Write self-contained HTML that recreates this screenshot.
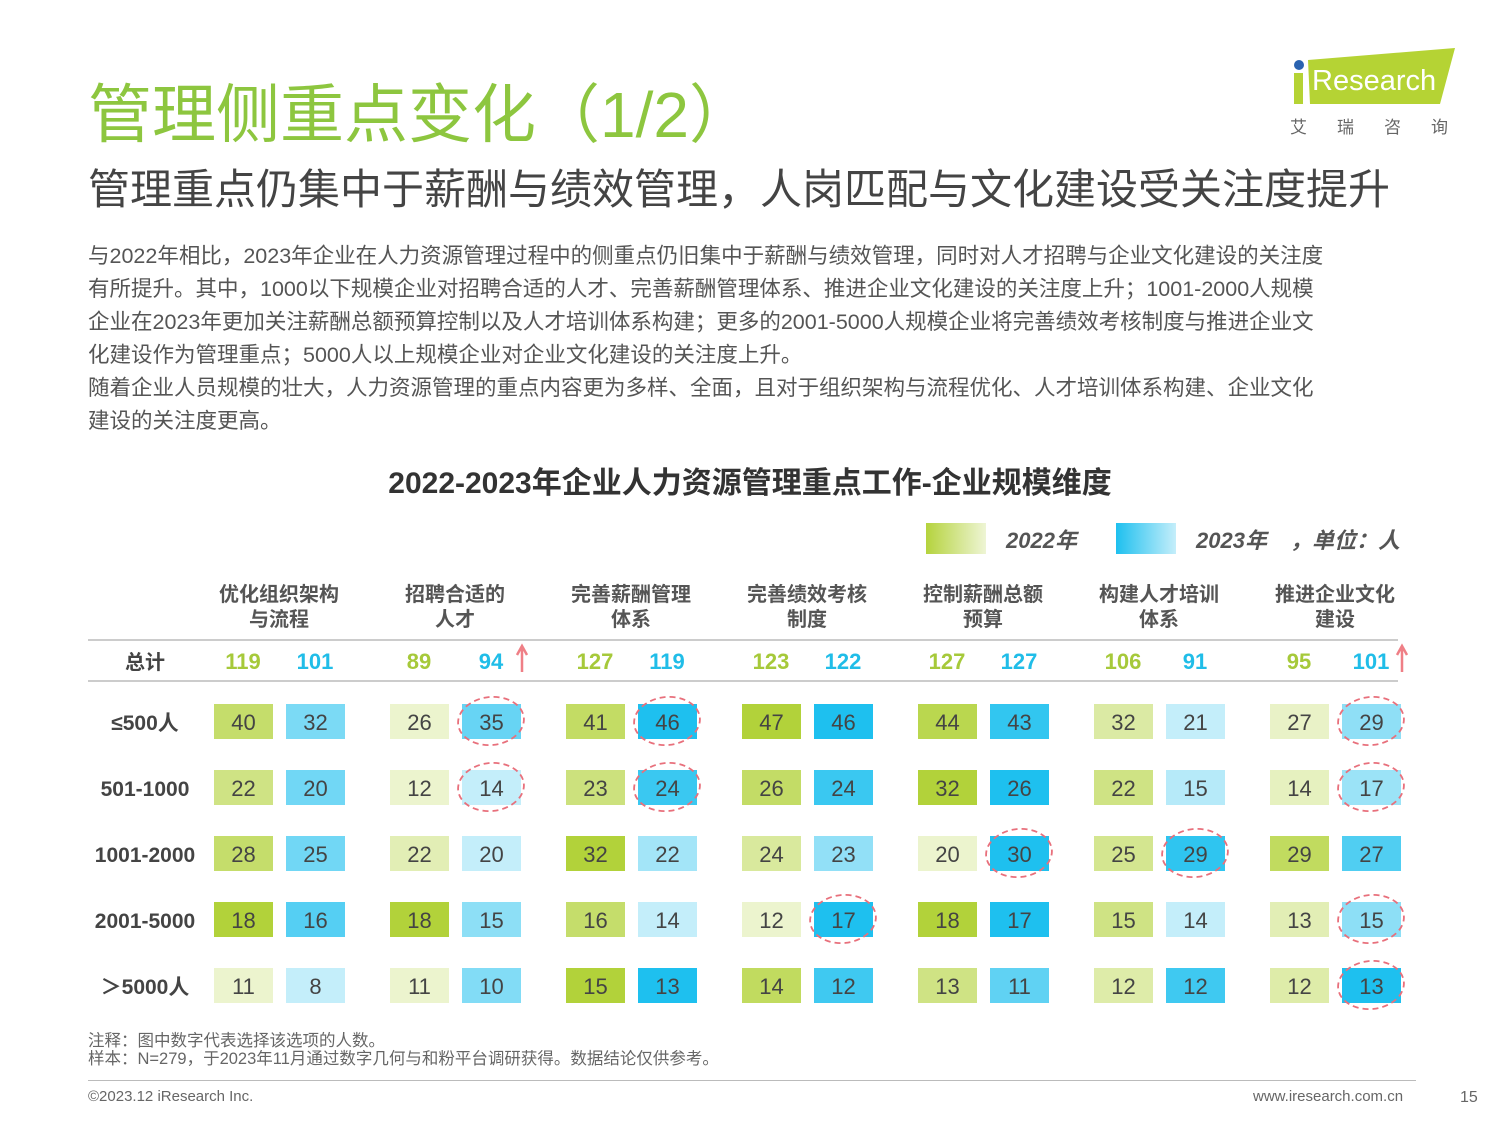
<!DOCTYPE html>
<html><head><meta charset="utf-8">
<style>
body{margin:0;width:1500px;height:1125px;background:#fff;position:relative;overflow:hidden;font-family:"Liberation Sans","Noto Sans CJK SC",sans-serif;}
.abs{position:absolute;}
#t1{left:88px;top:64px;font-size:64px;color:#8dc63f;white-space:nowrap;}
#t2{left:88px;top:156px;font-size:42px;color:#444;white-space:nowrap;}
#body{left:88px;top:240px;font-size:21.5px;line-height:33px;color:#555;white-space:nowrap;}
#ct{left:0;width:1500px;top:458px;text-align:center;font-size:30px;font-weight:bold;color:#333;}
.foot{font-size:15px;color:#666;}
</style></head><body>
<div class="abs" id="t1">管理侧重点变化（1/2）</div>
<div class="abs" id="t2">管理重点仍集中于薪酬与绩效管理，人岗匹配与文化建设受关注度提升</div>
<div class="abs" id="body">与2022年相比，2023年企业在人力资源管理过程中的侧重点仍旧集中于薪酬与绩效管理，同时对人才招聘与企业文化建设的关注度<br>有所提升。其中，1000以下规模企业对招聘合适的人才、完善薪酬管理体系、推进企业文化建设的关注度上升；1001-2000人规模<br>企业在2023年更加关注薪酬总额预算控制以及人才培训体系构建；更多的2001-5000人规模企业将完善绩效考核制度与推进企业文<br>化建设作为管理重点；5000人以上规模企业对企业文化建设的关注度上升。<br>随着企业人员规模的壮大，人力资源管理的重点内容更为多样、全面，且对于组织架构与流程优化、人才培训体系构建、企业文化<br>建设的关注度更高。</div>
<div class="abs" id="ct">2022-2023年企业人力资源管理重点工作-企业规模维度</div>

<div class="abs" style="left:1290px;top:48px;">
<svg width="170" height="60"><polygon points="18,12 165,0 150,56 20,56" fill="#b5d334"/><circle cx="9" cy="17" r="5" fill="#2a63b0"/><rect x="4" y="25" width="9" height="31" fill="#b5d334"/><text x="22" y="42" font-size="29" fill="#fff" font-family="Liberation Sans">Research</text></svg>
<div style="font-size:17px;color:#666;letter-spacing:30px;margin-top:0px;white-space:nowrap;">艾瑞咨询</div>
</div>

<svg class="abs" style="left:0;top:0" width="1500" height="1125" id="chart">
<defs>
<linearGradient id="gg" x1="0" x2="1"><stop offset="0" stop-color="#b5d33d"/><stop offset="1" stop-color="#eef5d5"/></linearGradient>
<linearGradient id="gb" x1="0" x2="1"><stop offset="0" stop-color="#1ec0ef"/><stop offset="1" stop-color="#c5eefa"/></linearGradient>
</defs>
<rect x="926" y="523" width="60" height="31" fill="url(#gg)"/>
<text x="1006" y="548" font-size="22" font-style="italic" font-weight="bold" fill="#555">2022年</text>
<rect x="1116" y="523" width="60" height="31" fill="url(#gb)"/>
<text x="1196" y="548" font-size="22" font-style="italic" font-weight="bold" fill="#555">2023年</text>
<text x="1290" y="548" font-size="22" font-style="italic" font-weight="bold" fill="#555">，单位：人</text>
<line x1="88" y1="640" x2="1398" y2="640" stroke="#ccc" stroke-width="2"/>
<line x1="88" y1="681" x2="1398" y2="681" stroke="#ccc" stroke-width="2"/>
<g id="g"></g>
</svg>

<div class="abs foot" style="left:88px;top:1032px;line-height:18px;font-size:16.5px;">注释：图中数字代表选择该选项的人数。<br>样本：N=279，于2023年11月通过数字几何与和粉平台调研获得。数据结论仅供参考。</div>
<div class="abs" style="left:88px;top:1080px;width:1328px;height:1px;background:#bbb;"></div>
<div class="abs foot" style="left:88px;top:1088px;">©2023.12 iResearch Inc.</div>
<div class="abs foot" style="left:1253px;top:1088px;">www.iresearch.com.cn</div>
<div class="abs foot" style="left:1460px;top:1089px;font-size:16px;">15</div>

<script>
const categories=[["优化组织架构","与流程"],["招聘合适的","人才"],["完善薪酬管理","体系"],["完善绩效考核","制度"],["控制薪酬总额","预算"],["构建人才培训","体系"],["推进企业文化","建设"]];
const rowLabels=["≤500人","501-1000","1001-2000","2001-5000","＞5000人"];
const total2022=[119,89,127,123,127,106,95];
const total2023=[101,94,119,122,127,91,101];
const v2022=[[40,26,41,47,44,32,27],[22,12,23,26,32,22,14],[28,22,32,24,20,25,29],[18,18,16,12,18,15,13],[11,11,15,14,13,12,12]];
const v2023=[[32,35,46,46,43,21,29],[20,14,24,24,26,15,17],[25,20,22,23,30,29,27],[16,15,14,17,17,14,15],[8,10,13,12,11,12,13]];
const highlights=[[0,1],[1,1],[0,2],[1,2],[2,4],[2,5],[3,3],[0,6],[1,6],[3,6],[4,6]];
const upArrows=[1,6];

const NS="http://www.w3.org/2000/svg";
const g=document.getElementById('g');
const colX=c=>214+c*176;
const rowY=r=>704+r*66;
function mk(t,a,p){const e=document.createElementNS(NS,t);for(const k in a)e.setAttribute(k,a[k]);(p||g).appendChild(e);return e;}
function mix(a,b,t){return 'rgb('+a.map((x,i)=>Math.round(x+(b[i]-x)*t)).join(',')+')';}
const gL=[236,244,206],gD=[178,210,58],bL=[196,238,250],bD=[30,192,239];
categories.forEach((c,i)=>{
 c.forEach((s,j)=>{const t=mk('text',{x:colX(i)+65,y:601+j*25,'text-anchor':'middle','font-size':20,'font-weight':'bold',fill:'#555'});t.textContent=s;
 
 });
 const a=mk('text',{x:colX(i)+29,y:669,'text-anchor':'middle','font-size':22,'font-weight':'bold',fill:'#a6c93a'});a.textContent=total2022[i];
 
 
 const b=mk('text',{x:colX(i)+101,y:669,'text-anchor':'middle','font-size':22,'font-weight':'bold',fill:'#20bde8'});b.textContent=total2023[i];
 
 
});
const tl=mk('text',{x:145,y:669,'text-anchor':'middle','font-size':20,'font-weight':'bold',fill:'#444'});tl.textContent='总计';


upArrows.forEach(i=>{const x=colX(i)+132;
 const ar=mk('path',{d:`M${x},672 L${x},648 M${x-5},655 L${x},646 L${x+5},655`,stroke:'#ef7f86','stroke-width':2.5,fill:'none'});
 
 });
rowLabels.forEach((l,r)=>{
 const t=mk('text',{x:145,y:rowY(r)+26,'text-anchor':'middle','font-size':21,'font-weight':'bold',fill:'#444'});t.textContent=l;
 
 
 [[v2022,gL,gD,0,'cell-2022'],[v2023,bL,bD,72,'cell-2023']].forEach(([V,L,D,off,nm])=>{
  const row=V[r],mn=Math.min(...row),mx=Math.max(...row);
  row.forEach((v,c)=>{const tt=mx>mn?(v-mn)/(mx-mn):0.5;
   const rc=mk('rect',{x:colX(c)+off,y:rowY(r),width:59,height:35,fill:mix(L,D,tt)});
   
   
   const tx=mk('text',{x:colX(c)+off+29.5,y:rowY(r)+26,'text-anchor':'middle','font-size':22,fill:'#444'});tx.textContent=v;
   
   
  });
 });
});
highlights.forEach(([r,c])=>{
 const e=mk('ellipse',{cx:colX(c)+101,cy:rowY(r)+17,rx:33,ry:24,fill:'none',stroke:'#e8707c','stroke-width':1.8,'stroke-dasharray':'6,4',transform:`rotate(-6 ${colX(c)+101} ${rowY(r)+17})`});
 
 
});
</script>
</body></html>
